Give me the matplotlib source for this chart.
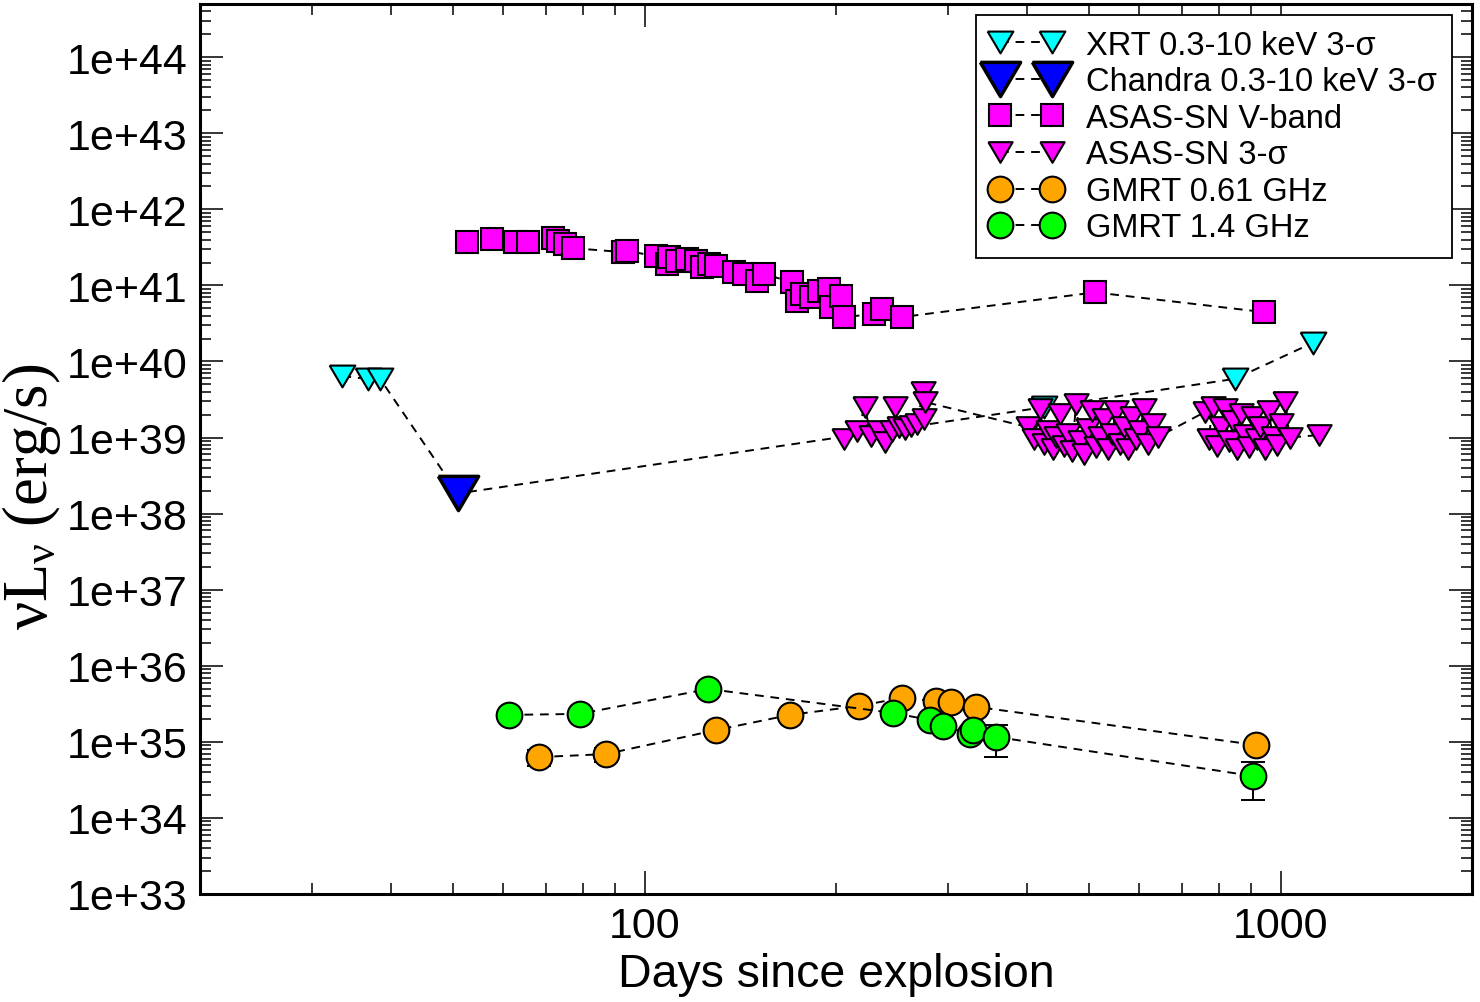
import numpy as np
import matplotlib
matplotlib.use("Agg")
import matplotlib.pyplot as plt
from matplotlib.ticker import FixedLocator, LogLocator, FuncFormatter, NullFormatter

plt.rcParams['font.family'] = ['Liberation Sans', 'DejaVu Sans']

# --- data (days since explosion, nuL_nu in erg/s) ---
xrt_days = [33.5, 36.8, 38.4, 50.9, 424, 847, 1126]
xrt_lum = [6.4e39, 5.9e39, 5.9e39, 1.84e38, 2.5e39, 5.9e39, 1.77e40]

chandra_days = [50.9]
chandra_lum = [1.84e38]

asas_v_days = [52.6, 57.6, 62.5, 65.6, 71.7, 73.1, 74.9, 77.1, 92.4, 94.0,
               104.4, 108.6, 109.4, 112.6, 116.8, 120.6, 123.3, 126.4, 129.7, 138.4,
               143.5, 150.4, 154.2, 170.6, 173.7, 176.8, 182.7, 188.1, 195.0, 196.4,
               203.6, 205.9, 229.4, 236.1, 253.7, 510.9, 940.6]
asas_v_lum = [3.71e41, 4.06e41, 3.71e41, 3.71e41, 4.19e41, 3.82e41, 3.49e41, 3.09e41, 2.74e41, 2.82e41,
              2.43e41, 1.91e41, 2.35e41, 2.09e41, 2.22e41, 2.09e41, 1.74e41, 1.91e41, 1.79e41, 1.50e41,
              1.41e41, 1.14e41, 1.41e41, 1.10e41, 6.2e40, 7.7e40, 7.0e40, 8.4e40, 8.9e40, 5.2e40,
              7.2e40, 3.83e40, 4.2e40, 4.9e40, 3.83e40, 8.1e40, 4.46e40]

asas_lim_days = [206, 216, 222, 227, 234, 239, 245, 248, 251, 257, 262, 268, 274, 275, 276,
                 401, 410, 419, 425, 431, 438, 444, 450, 457, 464, 470, 477, 484, 491, 498, 506,
                 513, 520, 528, 536, 543, 551, 559, 567, 576, 584, 593, 601, 610, 619, 630, 642,
                 760, 771, 782, 794, 805, 817, 829, 841, 853, 866, 878, 891, 904, 917, 930, 944,
                 958, 972, 986, 1000, 1018, 1033, 1151]
asas_lim_lum = [9.6e38, 1.22e39, 2.52e39, 1.05e39, 1.22e39, 8.7e38, 1.22e39, 2.52e39, 1.37e39, 1.3e39,
                1.42e39, 1.5e39, 3.96e39, 1.75e39, 2.93e39,
                1.37e39, 9.6e38, 2.4e39, 8.2e38, 1.22e39, 7.1e38, 1.02e39, 2.04e39, 7.7e38, 1.11e39,
                6.7e38, 2.75e39, 9.0e38, 6.1e38, 1.3e39, 2.23e39, 7.5e38, 1.02e39, 1.75e39, 7.1e38,
                1.11e39, 2.23e39, 8.2e38, 1.37e39, 7.1e38, 1.86e39, 9.6e38, 1.22e39, 2.4e39, 8.2e38,
                1.5e39, 1.02e39,
                2.16e39, 9.6e38, 2.52e39, 7.7e38, 1.37e39, 2.4e39, 9.0e38, 1.65e39, 7.1e38, 2.04e39,
                1.08e39, 7.5e38, 1.86e39, 9.6e38, 1.37e39, 7.1e38, 2.23e39, 1.02e39, 7.96e38, 1.5e39,
                2.93e39, 1.0e39, 1.08e39]

gmrt061_days = [68.2, 86.9, 129.7, 169.4, 217.3, 253.7, 287.0, 302.9, 332.6, 913.7]
gmrt061_lum = [6.3e34, 6.9e34, 1.43e35, 2.26e35, 2.96e35, 3.78e35, 3.44e35, 3.34e35, 2.88e35, 9.1e34]
gmrt061_err = [1.5e34, 1.5e34, 0, 0, 0, 0, 0, 0, 0, 0]

gmrt14_days = [61.2, 79.1, 126.0, 245.7, 280.7, 294.3, 325.4, 329.0, 357.5, 903.8]
gmrt14_lum = [2.26e35, 2.33e35, 4.95e35, 2.40e35, 1.94e35, 1.62e35, 1.27e35, 1.43e35, 1.16e35, 3.56e34]
gmrt14_err = [0, 0, 0, 0, 0, 0, 0, 0, 5.2e34, 1.83e34]

# --- figure ---
fig = plt.figure(figsize=(14.8, 10.03), dpi=100)
ax = fig.add_axes([0.1351, 0.1077, 0.8595, 0.8873])

# wider-than-tall downward triangle, like the grace symbol
tri = [(-1, 0.85), (1, 0.85), (0, -0.85), (-1, 0.85)]

dash = (0, (4.5, 3.5))
line_kw = dict(color='k', linestyle=dash, lw=1.4, mec='k')

def add_err(days, lum, err, z):
    d = np.array(days); l = np.array(lum); e = np.array(err)
    m = e > 0
    ax.errorbar(d[m], l[m], yerr=e[m], fmt='none', ecolor='k', elinewidth=1.4,
                capsize=8.5, capthick=1.4, zorder=z)

ax.plot(xrt_days, xrt_lum, marker=tri, ms=18.5, mfc='#00FFFF', mew=1.5,
        label='XRT 0.3-10 keV 3-σ', zorder=3, **line_kw)
ax.plot(chandra_days, chandra_lum, marker=tri, ms=29, mfc='#0000FF', mew=2.5,
        label='Chandra 0.3-10 keV 3-σ', zorder=4, **line_kw)
ax.plot(asas_v_days, asas_v_lum, marker='s', ms=16, mfc='#FF00FF', mew=1.5,
        label='ASAS-SN V-band', zorder=5, **line_kw)
ax.plot(asas_lim_days, asas_lim_lum, marker=tri, ms=17.5, mfc='#FF00FF', mew=1.5,
        label='ASAS-SN 3-σ', zorder=6, **line_kw)
add_err(gmrt061_days, gmrt061_lum, gmrt061_err, 6.5)
ax.plot(gmrt061_days, gmrt061_lum, marker='o', ms=18.5, mfc='#FFA500', mew=1.5,
        label='GMRT 0.61 GHz', zorder=7, **line_kw)
add_err(gmrt14_days, gmrt14_lum, gmrt14_err, 7.5)
ax.plot(gmrt14_days, gmrt14_lum, marker='o', ms=18.5, mfc='#00FF00', mew=1.5,
        label='GMRT 1.4 GHz', zorder=8, **line_kw)

ax.set_xscale('log')
ax.set_yscale('log')
ax.set_xlim(20, 2000)
ax.set_ylim(1e33, 5e44)

ax.xaxis.set_major_locator(FixedLocator([100, 1000]))
ax.xaxis.set_major_formatter(FuncFormatter(lambda v, p: '%d' % v))
ax.xaxis.set_minor_locator(LogLocator(base=10, subs=np.arange(2, 10), numticks=50))
ax.xaxis.set_minor_formatter(NullFormatter())

ax.yaxis.set_major_locator(FixedLocator([10.0 ** k for k in range(33, 45)]))
ax.yaxis.set_major_formatter(FuncFormatter(lambda v, p: '1e+%d' % int(round(np.log10(v)))))
ax.yaxis.set_minor_locator(LogLocator(base=10, subs=np.arange(2, 10), numticks=200))
ax.yaxis.set_minor_formatter(NullFormatter())

ax.tick_params(which='both', direction='in', top=True, right=True, width=1.1)
ax.tick_params(which='major', length=16.5, labelsize=31, pad=9)
ax.tick_params(which='minor', length=8)
for s in ax.spines.values():
    s.set_linewidth(2.2)

ax.set_xlabel('Days since explosion', fontsize=33.5, labelpad=4)
ax.set_ylabel(r'ν$\mathregular{L_{ν}}$ (erg/s)', fontsize=45,
              family=['Liberation Serif', 'DejaVu Serif'])
ax.yaxis.set_label_coords(-0.108, 0.447)

leg = ax.legend(loc='upper right', bbox_to_anchor=(0.9843, 0.9876), borderaxespad=0,
                fontsize=23.5, numpoints=2, handlelength=2.2, handletextpad=0.75,
                borderpad=0.45, labelspacing=0.17, fancybox=False, framealpha=1,
                edgecolor='k')
leg.get_frame().set_linewidth(1.3)

fig.savefig('out.png', dpi=100)
